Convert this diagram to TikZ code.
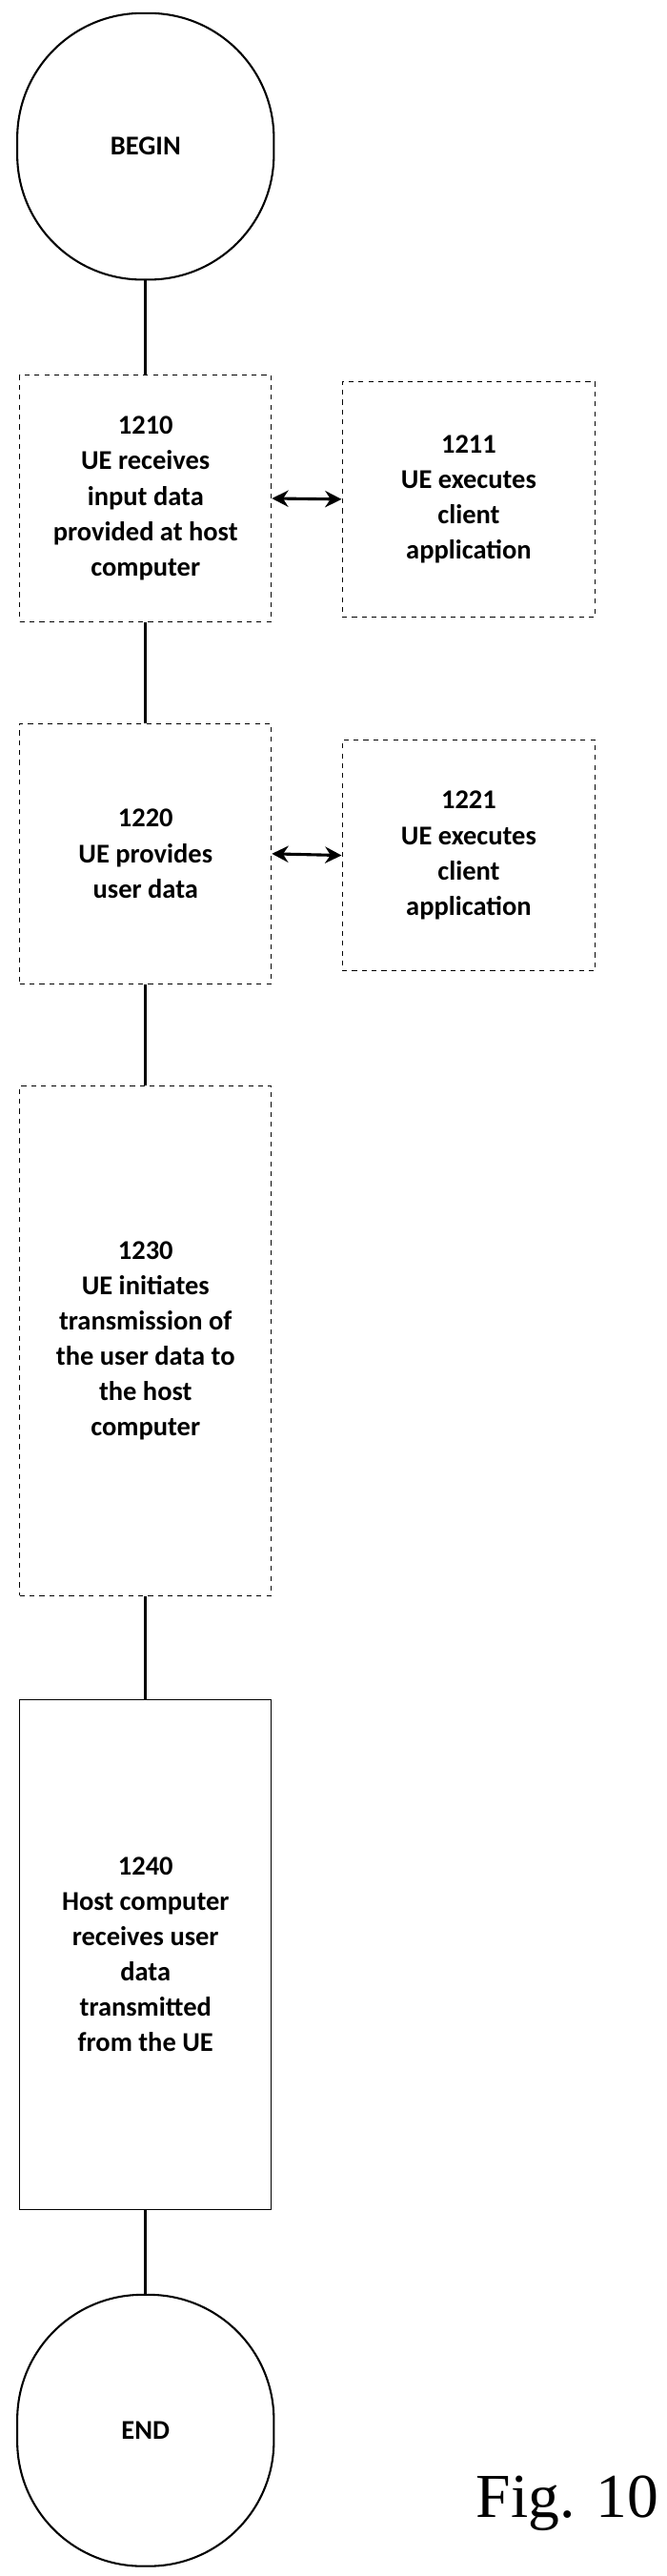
\documentclass[tikz,border=0pt]{standalone}
\usepackage{fontspec}
\setmainfont{Carlito}
\newfontfamily\figfont{Liberation Serif}
\usetikzlibrary{arrows.meta}
\begin{document}
\begin{tikzpicture}[x=1pt,y=-1pt,
 box/.style={draw,dashed,line width=0.6pt,align=center,font=\fontsize{16.5}{21.5}\selectfont\bfseries},
 term/.style={draw,line width=1.2pt,rounded corners=76pt,align=center,font=\fontsize{16.5}{21.5}\selectfont\bfseries},
 ln/.style={line width=2pt},
 dbl/.style={line width=1.8pt,{Stealth[length=10pt,width=10pt]}-{Stealth[length=10pt,width=10pt]}}]
\useasboundingbox (0,0) rectangle (405,1566);
\fill[white] (0,0) rectangle (405,1566);
\node[term,minimum width=156pt,minimum height=162pt] (b) at (88.5,89) {BEGIN};
\node[box,minimum width=153pt,minimum height=150pt] (a1) at (88.5,303) {1210\\UE receives\\input data\\provided at host\\computer};
\node[box,minimum width=154pt,minimum height=143pt] (a2) at (285,303.5) {1211\\UE executes\\client\\application};
\node[box,minimum width=153pt,minimum height=158pt] (b1) at (88.5,519) {1220\\UE provides\\user data};
\node[box,minimum width=154pt,minimum height=140pt] (b2) at (285,520) {1221\\UE executes\\client\\application};
\node[box,minimum width=153pt,minimum height=310pt] (c) at (88.5,815) {1230\\UE initiates\\transmission of\\the user data to\\the host\\computer};
\node[box,solid,minimum width=153pt,minimum height=310pt] (d) at (88.5,1188) {1240\\Host computer\\receives user\\data\\transmitted\\from the UE};
\node[term,minimum width=156pt,minimum height=165pt] (e) at (88.5,1477.5) {END};
\node[font=\figfont\fontsize{38}{40}\selectfont,anchor=center] (f) at (345,1522) {Fig. 10};
\draw[ln] (b.south) -- (a1.north);
\draw[ln] (a1.south) -- (b1.north);
\draw[ln] (b1.south) -- (c.north);
\draw[ln] (c.south) -- (d.north);
\draw[ln] (d.south) -- (e.north);
\draw[dbl] (a1.east) -- (a2.west);
\draw[dbl] (b1.east) -- (b2.west);
\end{tikzpicture}
\end{document}
